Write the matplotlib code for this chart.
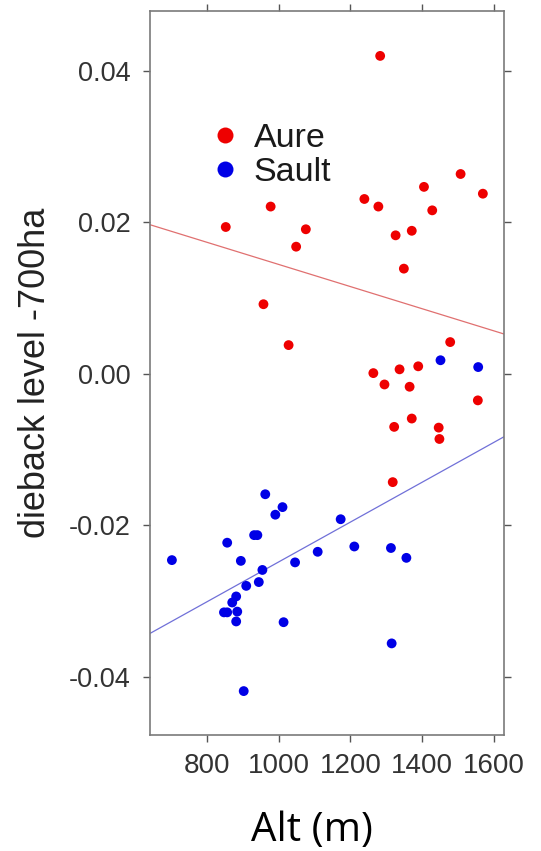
import matplotlib
matplotlib.use("Agg")
import matplotlib.pyplot as plt
from matplotlib.lines import Line2D
import numpy as np

# ---------------- data ----------------
aure_alt = [978, 853, 1076, 1049, 1283, 1239, 1278, 1405, 1507, 1569, 1428, 1326,
            1371, 958, 1028, 1349, 1478, 1264, 1337, 1389, 1295, 1365, 1555, 1371,
            1322, 1446, 1448, 1318]
aure_dieback = [0.0221, 0.0194, 0.0191, 0.0168, 0.0420, 0.0231, 0.0221, 0.0247,
                0.0264, 0.0238, 0.0216, 0.0183, 0.0189, 0.0092, 0.0038, 0.0139,
                0.0042, 0.0001, 0.0006, 0.0010, -0.0014, -0.0017, -0.0035, -0.0059,
                -0.0070, -0.0071, -0.0086, -0.0143]

sault_alt = [963, 1011, 991, 932, 941, 857, 703, 1109, 1046, 895, 955, 945, 910,
             882, 871, 848, 857, 885, 882, 1014, 903, 1173, 1211, 1313, 1356, 1315,
             1451, 1556]
sault_dieback = [-0.0159, -0.0176, -0.0186, -0.0213, -0.0213, -0.0223, -0.0246,
                 -0.0235, -0.0249, -0.0247, -0.0259, -0.0275, -0.0280, -0.0294,
                 -0.0302, -0.0315, -0.0315, -0.0314, -0.0327, -0.0328, -0.0419,
                 -0.0192, -0.0228, -0.0230, -0.0243, -0.0356, 0.0018, 0.0009]

# fitted lines: intercept, slope
aure_fit = [0.0291, -1.464e-5]
sault_fit = [-0.0512, 2.635e-5]

series_names = ["Aure", "Sault"]
series_colors = ["#ee0000", "#0000e6"]
line_colors = ["#e07070", "#7070d8"]

x_ticks = [800, 1000, 1200, 1400, 1600]
y_ticks = [-0.04, -0.02, 0.00, 0.02, 0.04]
y_ticklabels = ["-0.04", "-0.02", "0.00", "0.02", "0.04"]
xlabel = "Alt (m)"
ylabel = "dieback level -700ha"

# ---------------- figure ----------------
W, H = 541, 851
AX_L, AX_R, AX_T, AX_B = 150, 504.3, 10.7, 735
AW, AH = AX_R - AX_L, AX_B - AX_T
fig = plt.figure(figsize=(W / 100, H / 100), dpi=100)
ax = fig.add_axes([AX_L / W, (H - AX_B) / H, AW / W, AH / H])

xlim = (642, 1628.7)
ylim = (-0.0477, 0.04797)

xs = np.array(xlim)
ax.plot(xs, aure_fit[0] + aure_fit[1] * xs, color=line_colors[0], lw=0.9, zorder=2)
ax.plot(xs, sault_fit[0] + sault_fit[1] * xs, color=line_colors[1], lw=0.9, zorder=2)

ax.scatter(aure_alt, aure_dieback, s=50, color=series_colors[0], edgecolors="none", zorder=3)
ax.scatter(sault_alt, sault_dieback, s=50, color=series_colors[1], edgecolors="none", zorder=3)

ax.set_xlim(*xlim)
ax.set_ylim(*ylim)

ax.set_xticks(x_ticks)
ax.set_xticklabels([str(v) for v in x_ticks])
ax.set_yticks(y_ticks)
ax.set_yticklabels(y_ticklabels)

for sp in ax.spines.values():
    sp.set_color("#7a7a7a")
    sp.set_linewidth(1.2)

ax.tick_params(axis="both", direction="out", length=5, width=1.0, color="#555555",
               top=True, right=True, labeltop=False, labelright=False,
               labelcolor="#333333")
ax.tick_params(axis="x", labelsize=20, pad=8)
ax.tick_params(axis="y", labelsize=19.5, pad=9)
for lab in ax.get_xticklabels() + ax.get_yticklabels():
    lab.set_family("Liberation Sans")

ax.set_ylabel(ylabel, fontsize=26, family="Liberation Sans", color="#222222")
ax.yaxis.set_label_coords((53 - AX_L) / AW, 0.5)
ax.set_xlabel(xlabel, fontsize=29, family="Open Sans", color="black")
ax.xaxis.set_label_coords((311.7 - AX_L) / AW, -(831 - AX_B) / AH)
ax.xaxis.label.set_verticalalignment("center")

handles = [Line2D([], [], ls="none", marker="o", markersize=11.5,
                  markerfacecolor=c, markeredgecolor="none") for c in series_colors]
leg = ax.legend(handles, series_names, loc="center left",
                bbox_to_anchor=(0.172, 0.8), frameon=False,
                prop={"family": "Liberation Sans", "size": 24.5},
                handlelength=0.8, handletextpad=0.45, labelspacing=0.08,
                borderpad=0.0, borderaxespad=0.0)
for t in leg.get_texts():
    t.set_color("#1a1a1a")

fig.savefig("out.png", dpi=100)
